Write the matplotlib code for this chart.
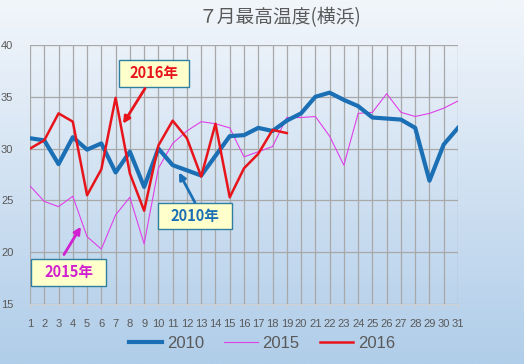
import numpy as np
import matplotlib
matplotlib.use("Agg")
import matplotlib.pyplot as plt
from matplotlib.patches import Rectangle

plt.rcParams["font.family"] = ["Noto Sans CJK JP", "DejaVu Sans"]

days = list(range(1, 32))
t2010 = [31.0, 30.8, 28.5, 31.1, 29.9, 30.5, 27.7, 29.7, 26.3, 30.0,
         28.4, 27.9, 27.4, 29.3, 31.2, 31.3, 32.0, 31.7, 32.7, 33.4,
         35.0, 35.4, 34.7, 34.1, 33.0, 32.9, 32.8, 32.0, 26.9, 30.4, 32.0]
t2015 = [26.4, 24.9, 24.4, 25.4, 21.5, 20.3, 23.6, 25.3, 20.8, 28.1,
         30.5, 31.7, 32.6, 32.4, 32.0, 29.2, 29.7, 30.2, 33.0, 33.0,
         33.1, 31.2, 28.4, 33.4, 33.5, 35.3, 33.5, 33.1, 33.4, 33.9, 34.6]
t2016 = [30.0, 30.8, 33.4, 32.6, 25.5, 28.0, 34.9, 27.6, 24.0, 30.3,
         32.7, 31.0, 27.3, 32.4, 25.3, 28.1, 29.5, 31.8, 31.5]

title = "７月最高温度(横浜)"
c2010, c2015, c2016 = "#1a6fb5", "#e040e8", "#e8141c"

fig = plt.figure(figsize=(5.24, 3.64), dpi=100)

# background gradient
bg = fig.add_axes([0, 0, 1, 1], zorder=-10)
top = np.array([242, 246, 251]) / 255
bot = np.array([176, 205, 233]) / 255
g = np.linspace(0, 1, 256)[:, None, None]
grad = top * (1 - g) + bot * g
bg.imshow(np.repeat(grad, 2, axis=1), aspect="auto", extent=[0, 1, 0, 1])
bg.axis("off")

ax = fig.add_axes([30 / 524, 1 - 304 / 364, 428 / 524, 259 / 364])
ax.patch.set_alpha(0)
ax.plot(days, t2010, color=c2010, lw=3.0, label="2010", zorder=3)
ax.plot(days, t2015, color=c2015, lw=0.8, label="2015", zorder=2)
ax.plot(days[:len(t2016)], t2016, color=c2016, lw=1.8, label="2016", zorder=4)

ax.set_xlim(1, 31)
ax.set_ylim(15, 40)
ax.set_xticks(days)
ax.set_yticks([15, 20, 25, 30, 35, 40])
ax.grid(True, color="#a8a8a8", lw=0.9)
for s in ["left", "right", "top"]:
    ax.spines[s].set_visible(False)
ax.spines["bottom"].set_color("#d0d0d0")
ax.tick_params(axis="x", length=3, color="#d0d0d0", pad=8, labelsize=8,
               labelcolor="#595959")
ax.tick_params(axis="y", length=0, pad=12, labelsize=8, labelcolor="#595959")
for lab in ax.get_xticklabels() + ax.get_yticklabels():
    lab.set_family(["Liberation Sans", "DejaVu Sans"])

fig.text(280 / 524, 1 - 18 / 364, title, ha="center", va="center",
         fontsize=13.5, color="#595959")

# callouts: (text, color, box x0, x1, y0, y1, arrow tail, arrow head)
callouts = [
    ("2016年", c2016, 7.24, 12.14, 35.98, 38.59, (9.06, 35.8), (7.52, 32.4)),
    ("2010年", c2010, 9.97, 15.16, 22.28, 24.79, (12.56, 24.8), (11.44, 27.7)),
    ("2015年", "#d020d0", 1.07, 6.33, 16.78, 19.38, (3.38, 19.77), (4.57, 22.47)),
]
for txt, col, x0, x1, y0, y1, tail, head in callouts:
    ax.add_patch(Rectangle((x0, y0), x1 - x0, y1 - y0, fc="#ffffcc",
                           ec="#2f7fa0", lw=1, zorder=6, clip_on=False))
    ax.text((x0 + x1) / 2, (y0 + y1) / 2, txt, ha="center", va="center",
            color=col, fontsize=10.5, fontweight="bold", zorder=7)
    ax.annotate("", xy=head, xytext=tail, zorder=6,
                arrowprops=dict(arrowstyle="-|>", color=col, lw=2,
                                mutation_scale=10, shrinkA=0, shrinkB=0))

leg = fig.legend(loc="center", bbox_to_anchor=(262 / 524, 1 - 343 / 364),
                 ncol=3, frameon=False, fontsize=12, handlelength=2.0,
                 columnspacing=1.2, handletextpad=0.3)
for t in leg.get_texts():
    t.set_color("#595959")
    t.set_family(["Liberation Sans", "DejaVu Sans"])

fig.savefig("out.png", dpi=100)
